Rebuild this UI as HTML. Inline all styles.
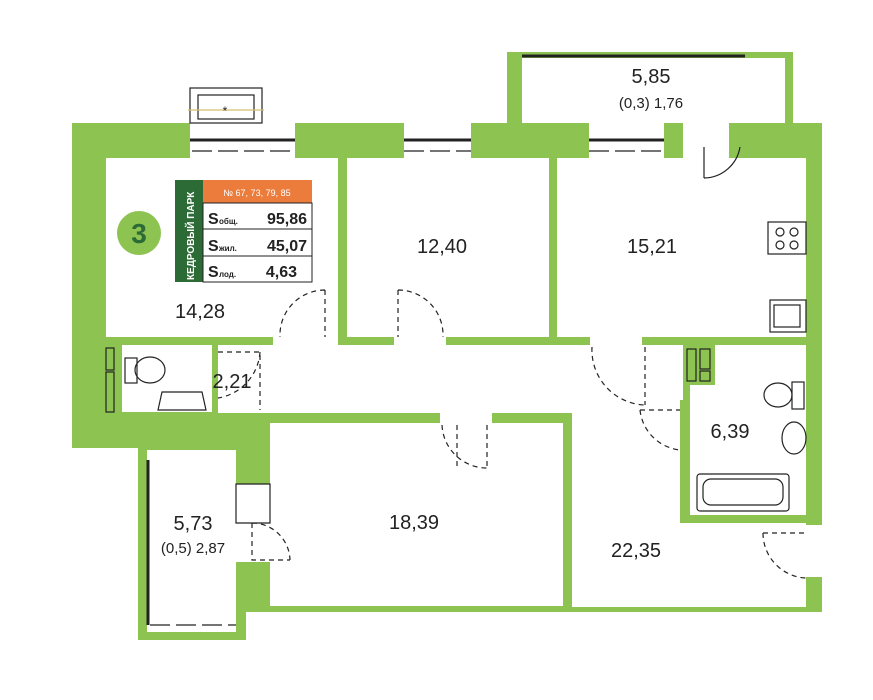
<!DOCTYPE html>
<html><head><meta charset="utf-8"><style>
body{margin:0;background:#fff;}
svg{display:block;font-family:"Liberation Sans",sans-serif;}
</style></head><body>
<svg width="873" height="700" viewBox="0 0 873 700" xmlns="http://www.w3.org/2000/svg">
<g fill="#8dc351">
<rect x="507" y="52" width="286" height="75"/>
<polygon points="72,123 822,123 822,612 246,612 246,640 138,640 138,448 72,448"/>
</g>
<g fill="#fff">
<rect x="522" y="58" width="263" height="65"/>
<rect x="106" y="158" width="232" height="179"/>
<rect x="347" y="158" width="202" height="179"/>
<rect x="557" y="158" width="249" height="179"/>
<rect x="190" y="123" width="105" height="35"/>
<rect x="404" y="123" width="67" height="35"/>
<rect x="589" y="123" width="75" height="35"/>
<rect x="683" y="123" width="46" height="35"/>
<rect x="218" y="345" width="464" height="68"/>
<rect x="273" y="335" width="65" height="12"/>
<rect x="394" y="335" width="52" height="12"/>
<rect x="590" y="335" width="52" height="12"/>
<rect x="122" y="345" width="90" height="67"/>
<rect x="690" y="345" width="116" height="170"/>
<rect x="642" y="345" width="41" height="60"/>
<rect x="572" y="405" width="108" height="20"/>
<rect x="572" y="420" width="234" height="187"/>
<rect x="806" y="525" width="16" height="52"/>
<rect x="270" y="423" width="293" height="183"/>
<rect x="440" y="412" width="52" height="14"/>
<rect x="147" y="450" width="89" height="182"/>
<rect x="236" y="522" width="36" height="40"/>
<rect x="190" y="88" width="72" height="35"/>
</g>
<g fill="#8dc351">
<rect x="680" y="400" width="10" height="122"/>
<rect x="680" y="515" width="126" height="8"/>
<rect x="683" y="345" width="32" height="40"/>
</g>
<g fill="none" stroke="#222" stroke-width="1.2">
<rect x="190" y="88" width="72" height="35"/>
<rect x="198" y="95" width="56" height="24"/>
<line x1="188" y1="110" x2="264" y2="110" stroke="#d8c070"/>
<text x="225" y="115" font-size="12" fill="#222" stroke="none" text-anchor="middle">*</text>
<line x1="190" y1="140" x2="295" y2="140" stroke-width="3"/>
<line x1="192" y1="151" x2="293" y2="151" stroke-dasharray="20 6"/>
<line x1="404" y1="140" x2="471" y2="140" stroke-width="3"/>
<line x1="404" y1="151" x2="471" y2="151" stroke-dasharray="20 6"/>
<line x1="589" y1="140" x2="664" y2="140" stroke-width="3"/>
<line x1="589" y1="151" x2="664" y2="151" stroke-dasharray="20 6"/>
<line x1="522" y1="56" x2="745" y2="56" stroke-width="3"/>
<line x1="148" y1="460" x2="148" y2="625" stroke-width="3"/>
<line x1="150" y1="625" x2="236" y2="625" stroke-dasharray="20 6"/>
<path d="M704 147 L704 178 M704 178 A37 37 0 0 0 740 147" />
<path d="M325 290 L325 337 M325 290 A45 45 0 0 0 280 337" stroke-dasharray="5 4"/>
<path d="M398 290 L398 337 M398 290 A45 45 0 0 1 443 337" stroke-dasharray="5 4"/>
<path d="M218 352 L260 352 L260 410 M260 352 A50 50 0 0 1 218 398" stroke-dasharray="5 4"/>
<path d="M592 347 A55 55 0 0 0 645 405 M645 347 L645 405" stroke-dasharray="5 4"/>
<path d="M640 410 A45 45 0 0 0 680 450 M640 410 L680 410" stroke-dasharray="5 4"/>
<path d="M457 425 L457 470 M487 425 L487 468 M442 425 A45 45 0 0 0 487 468" stroke-dasharray="5 4"/>
<path d="M252 523 L252 560 L290 560 M252 523 A38 38 0 0 1 290 560" stroke-dasharray="5 4"/>
<path d="M236 484 L270 484 L270 523 L236 523 Z" fill="#fff"/>
<path d="M763 533 L806 533 M763 533 A45 45 0 0 0 806 578" stroke-dasharray="5 4"/>
<rect x="687" y="349" width="9" height="32"/><rect x="700" y="349" width="10" height="20"/><rect x="700" y="371" width="10" height="10"/>
<rect x="768" y="222" width="38" height="32"/>
<circle cx="780" cy="232" r="4"/><circle cx="794" cy="232" r="4"/><circle cx="780" cy="245" r="4"/><circle cx="794" cy="245" r="4"/>
<rect x="770" y="300" width="36" height="32"/>
<rect x="774" y="305" width="26" height="22"/>
<ellipse cx="778" cy="395" rx="14" ry="12"/><rect x="792" y="382" width="12" height="27"/>
<ellipse cx="794" cy="438" rx="12" ry="16"/>
<rect x="697" y="474" width="92" height="37" rx="3"/>
<rect x="703" y="479" width="80" height="26" rx="8"/>
<ellipse cx="150" cy="370" rx="15" ry="13"/><rect x="125" y="358" width="12" height="25"/>
<path d="M162 392 L202 392 L206 410 L158 410 Z"/>
<rect x="106" y="348" width="8" height="22"/><rect x="106" y="372" width="8" height="40"/>
</g>
<rect x="175" y="180" width="28" height="102" fill="#2c6a36"/>
<text transform="translate(194,280) rotate(-90)" font-size="10" fill="#fff" font-weight="bold">КЕДРОВЫЙ ПАРК</text>
<rect x="203" y="180" width="109" height="23" fill="#ec7c3c"/>
<text x="257" y="196" font-size="9" fill="#fff" text-anchor="middle">№ 67, 73, 79, 85</text>
<g fill="none" stroke="#222" stroke-width="1"><rect x="203" y="203" width="109" height="79"/><line x1="203" y1="229" x2="312" y2="229"/><line x1="203" y1="256" x2="312" y2="256"/></g>
<g fill="#222" font-weight="bold">
<text x="208" y="224" font-size="16">S</text><text x="219" y="224" font-size="8">общ.</text><text x="307" y="224" font-size="16" text-anchor="end">95,86</text>
<text x="208" y="251" font-size="16">S</text><text x="219" y="251" font-size="8">жил.</text><text x="307" y="251" font-size="16" text-anchor="end">45,07</text>
<text x="208" y="277" font-size="16">S</text><text x="219" y="277" font-size="8">лод.</text><text x="297" y="277" font-size="16" text-anchor="end">4,63</text>
</g>
<circle cx="139" cy="233" r="22" fill="#8dc351"/>
<text x="139" y="243" font-size="28" font-weight="bold" fill="#2c6a36" text-anchor="middle">3</text>
<g fill="#222" font-size="20" text-anchor="middle">
<text x="200" y="318">14,28</text>
<text x="442" y="253">12,40</text>
<text x="652" y="253">15,21</text>
<text x="651" y="83">5,85</text>
<text x="651" y="108" font-size="15">(0,3) 1,76</text>
<text x="232" y="388">2,21</text>
<text x="730" y="438">6,39</text>
<text x="414" y="529">18,39</text>
<text x="636" y="557">22,35</text>
<text x="193" y="530">5,73</text>
<text x="193" y="553" font-size="15">(0,5) 2,87</text>
</g>
</svg>
</body></html>
